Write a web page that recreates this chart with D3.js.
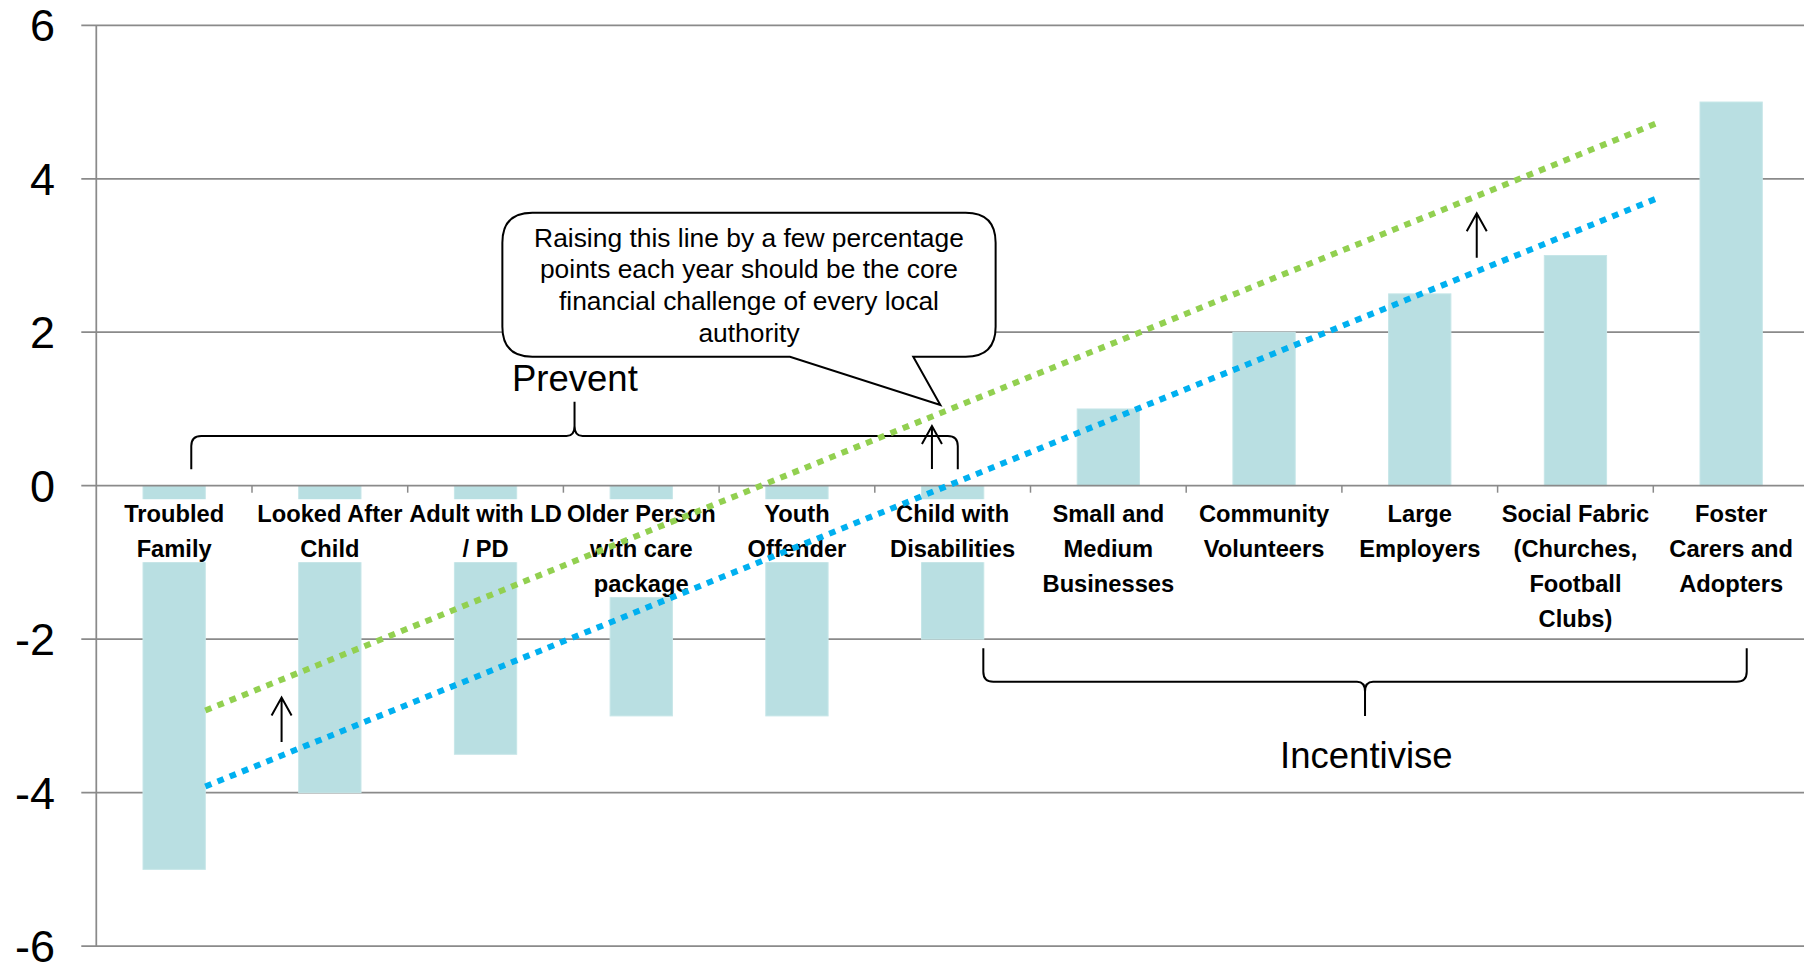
<!DOCTYPE html>
<html>
<head>
<meta charset="utf-8">
<script src="https://cdn.jsdelivr.net/npm/d3@7"></script>
<style>
  body { margin: 0; background: #fff; }
  svg { display: block; font-family: "Liberation Sans", Arial, sans-serif; }
</style>
</head>
<body>
<div class="container"></div>
<script>
// ==================================================
// Data
// ==================================================
const categories = [
  "Troubled Family", "Looked After Child", "Adult with LD / PD", "Older Person with care package",
  "Youth Offender", "Child with Disabilities", "Small and Medium Businesses", "Community Volunteers",
  "Large Employers", "Social Fabric (Churches, Football Clubs)", "Foster Carers and Adopters"
];
// how each category label wraps on the axis
const labelLines = [
  ["Troubled", "Family"],
  ["Looked After", "Child"],
  ["Adult with LD", "/ PD"],
  ["Older Person", "with care", "package"],
  ["Youth", "Offender"],
  ["Child with", "Disabilities"],
  ["Small and", "Medium", "Businesses"],
  ["Community", "Volunteers"],
  ["Large", "Employers"],
  ["Social Fabric", "(Churches,", "Football", "Clubs)"],
  ["Foster", "Carers and", "Adopters"]
];
const values = [-5, -4, -3.5, -3, -3, -2, 1, 2, 2.5, 3, 5];
const yTicks = [-6, -4, -2, 0, 2, 4, 6];

// dotted lines: category position (0 = first bar centre) and value at both ends
const lineNames = ["now", "raised"];
const lineStart = [[0.2, -3.92], [0.2, -2.93]];
const lineEnd = [[9.53, 3.75], [9.53, 4.73]];

const calloutLines = [
  "Raising this line by a few percentage",
  "points each year should be the core",
  "financial challenge of every local",
  "authority"
];

// ==================================================
// Layout / scales
// ==================================================
const W = 1804, H = 967;
const plotLeft = 96.3, plotRight = 1809;

const svg = d3.select(".container").append("svg")
  .attr("width", W).attr("height", H);

const x = d3.scaleBand()
  .domain(categories)
  .range([plotLeft, plotRight])
  .paddingInner(0.6)
  .paddingOuter(0.3);

const y = d3.scaleLinear().domain([-6, 6]).range([946.1, 25.3]);

// position along the category axis (fractional index -> px)
const cx = p => plotLeft + (p + 0.5) * x.step();

const gridColor = "#8a8a8a";
const barColor = "#b9dfe2";
const lineColors = { now: "#00b0f0", raised: "#92d050" };

// ==================================================
// Grid + y axis
// ==================================================
svg.append("g").selectAll("line")
  .data(yTicks.filter(t => t !== 0))
  .join("line")
  .attr("x1", plotLeft - 15).attr("x2", W)
  .attr("y1", d => y(d)).attr("y2", d => y(d))
  .attr("stroke", gridColor).attr("stroke-width", 1.75);

svg.append("g").selectAll("text")
  .data(yTicks)
  .join("text")
  .attr("x", 55)
  .attr("y", d => y(d) + 16)
  .attr("text-anchor", "end")
  .style("font-size", "45px")
  .style("fill", "#000")
  .text(d => d);

// ==================================================
// Bars
// ==================================================
svg.append("g").selectAll("rect")
  .data(values)
  .join("rect")
  .attr("x", (d, i) => x(categories[i]))
  .attr("width", x.bandwidth())
  .attr("y", d => Math.min(y(d), y(0)))
  .attr("height", d => Math.abs(y(d) - y(0)))
  .attr("fill", barColor)
  .attr("stroke", "#c6e6e8").attr("stroke-width", 1);

// zero line, category ticks, y axis line
svg.append("line")
  .attr("x1", plotLeft - 15).attr("x2", W)
  .attr("y1", y(0)).attr("y2", y(0))
  .attr("stroke", gridColor).attr("stroke-width", 1.75);

svg.append("g").selectAll("line")
  .data(d3.range(1, categories.length + 1))
  .join("line")
  .attr("x1", d => plotLeft + d * x.step()).attr("x2", d => plotLeft + d * x.step())
  .attr("y1", y(0)).attr("y2", y(0) + 7)
  .attr("stroke", gridColor).attr("stroke-width", 1.5);

svg.append("line")
  .attr("x1", plotLeft).attr("x2", plotLeft)
  .attr("y1", y(6)).attr("y2", y(-6))
  .attr("stroke", gridColor).attr("stroke-width", 1.75);

// ==================================================
// Category labels (white backing hides the bars)
// ==================================================
const firstBase = 521.7, lineGap = 35;
const labelG = svg.append("g").selectAll("g")
  .data(labelLines)
  .join("g")
  .attr("transform", (d, i) => `translate(${x(categories[i]) + x.bandwidth() / 2},0)`);

labelG.append("rect")
  .attr("x", -x.step() / 2 + 4)
  .attr("width", x.step() - 8)
  .attr("y", firstBase - 22.5)
  .attr("height", d => (d.length - 1) * lineGap + 28)
  .attr("fill", "#fff");

labelG.selectAll("text")
  .data(d => d)
  .join("text")
  .attr("x", 0)
  .attr("y", (d, j) => firstBase + j * lineGap)
  .attr("text-anchor", "middle")
  .style("font-size", "23.7px")
  .style("font-weight", "bold")
  .style("fill", "#000")
  .text(d => d);

// ==================================================
// Braces + group names
// ==================================================
function brace(p0, p1, vEnd, vMid, vTip) {
  const x0 = cx(p0), x1 = cx(p1), xm = (x0 + x1) / 2;
  const yE = y(vEnd), yM = y(vMid), yT = y(vTip);
  const dir = yT > yM ? 1 : -1, r = 10;
  return `M${x0},${yE} L${x0},${yM - dir * r} Q${x0},${yM} ${x0 + r},${yM} ` +
    `L${xm - 8},${yM} Q${xm},${yM} ${xm},${yM + dir * 10} L${xm},${yT} ` +
    `L${xm},${yM + dir * 10} Q${xm},${yM} ${xm + 8},${yM} ` +
    `L${x1 - r},${yM} Q${x1},${yM} ${x1},${yM - dir * r} L${x1},${yE}`;
}

svg.append("path")
  .attr("d", brace(0.11, 5.033, 0.214, 0.648, 1.095))
  .attr("fill", "none").attr("stroke", "#000").attr("stroke-width", 2);

svg.append("path")
  .attr("d", brace(5.197, 10.1, -2.12, -2.554, -3.0))
  .attr("fill", "none").attr("stroke", "#000").attr("stroke-width", 2);

svg.append("text")
  .attr("x", cx(2.574)).attr("y", y(1.238))
  .attr("text-anchor", "middle")
  .style("font-size", "36.5px")
  .text("Prevent");

svg.append("text")
  .attr("x", cx(7.657)).attr("y", y(-3.683))
  .attr("text-anchor", "middle")
  .style("font-size", "36.5px")
  .text("Incentivise");

// ==================================================
// Callout
// ==================================================
{
  const l = cx(2.108), r = cx(5.276), t = y(3.558), b = y(1.681), rad = 30;
  const tailA = cx(3.955), tailB = cx(4.747), tipX = cx(4.921), tipY = y(1.052);
  const d = `M${l + rad},${t} L${r - rad},${t} Q${r},${t} ${r},${t + rad} ` +
    `L${r},${b - rad} Q${r},${b} ${r - rad},${b} L${tailB},${b} L${tipX},${tipY} L${tailA},${b} ` +
    `L${l + rad},${b} Q${l},${b} ${l},${b - rad} L${l},${t + rad} Q${l},${t} ${l + rad},${t} Z`;
  svg.append("path")
    .attr("d", d)
    .attr("fill", "#fff").attr("stroke", "#000").attr("stroke-width", 2);

  svg.append("g").selectAll("text")
    .data(calloutLines)
    .join("text")
    .attr("x", (l + r) / 2)
    .attr("y", (dd, i) => y(3.115) + i * 31.7)
    .attr("text-anchor", "middle")
    .style("font-size", "26.4px")
    .style("fill", "#000")
    .text(dd => dd);
}

// ==================================================
// Up arrows
// ==================================================
const arrows = [[0.69, -3.34, -2.76], [8.366, 2.97, 3.55], [4.867, 0.218, 0.778]];
arrows.forEach(([p, v0, v1]) => {
  const ax = cx(p), y0 = y(v0), y1 = y(v1);
  svg.append("path")
    .attr("d", `M${ax},${y0} L${ax},${y1} M${ax - 10},${y1 + 18} L${ax},${y1} L${ax + 10},${y1 + 18}`)
    .attr("fill", "none").attr("stroke", "#000").attr("stroke-width", 2);
});

// ==================================================
// Dotted lines
// ==================================================
lineNames.forEach((n, i) => {
  svg.append("line")
    .attr("x1", cx(lineStart[i][0])).attr("y1", y(lineStart[i][1]))
    .attr("x2", cx(lineEnd[i][0])).attr("y2", y(lineEnd[i][1]))
    .attr("stroke", lineColors[n])
    .attr("stroke-width", 6)
    .attr("stroke-dasharray", "6.6 6.6");
});
</script>
</body>
</html>
